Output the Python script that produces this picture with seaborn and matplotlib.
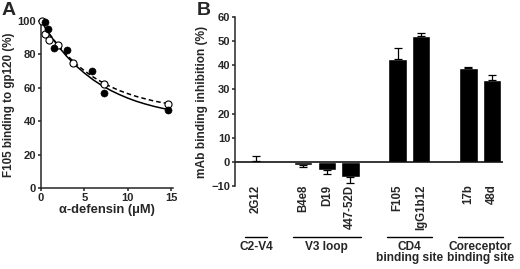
import numpy as np
import pandas as pd
import matplotlib
matplotlib.use("Agg")
import matplotlib.pyplot as plt
import seaborn as sns

# Panel A: F105 binding vs alpha-defensin (two experiments)
filled_x = [0.45, 0.8, 1.5, 3.0, 5.9, 7.3, 14.6]
filled_y = [99.5, 95, 84, 82.5, 70, 57, 47]
open_x = [0.1, 0.5, 0.95, 1.9, 3.7, 7.3, 14.6]
open_y = [100, 92.5, 88.5, 85.5, 75, 62.5, 50.5]

# fitted curves
curve_x = [0, 1, 2, 3, 4, 5, 6, 7, 8, 9, 10, 11, 12, 13, 14, 14.7]
solid_fit = [100, 91.8, 84.7, 78.6, 73.3, 68.8, 64.8, 61.4, 58.5, 56.0, 53.8, 51.9, 50.3, 48.9, 47.7, 47.0]
dashed_fit = [100, 92.0, 85.2, 79.4, 74.4, 70.2, 66.5, 63.4, 60.7, 58.4, 56.5, 54.8, 53.4, 52.1, 51.1, 50.5]

# Panel B: mAb binding inhibition
antibodies = ["2G12", "B4e8", "D19", "447-52D", "F105", "IgG1b12", "17b", "48d"]
inhibition = [0.5, -1.5, -3.3, -6.3, 42.5, 52.0, 39.0, 34.0]
sem = [2.0, 0.7, 1.8, 2.4, 4.5, 1.2, 0.4, 2.0]
groups = ["C2-V4", "V3 loop", "CD4\nbinding site", "Coreceptor\nbinding site"]
group_members = [["2G12"], ["B4e8", "D19", "447-52D"], ["F105", "IgG1b12"], ["17b", "48d"]]

sns.set_style("ticks")
plt.rcParams['font.family'] = ['Liberation Sans', 'DejaVu Sans']
plt.rcParams['font.weight'] = 'bold'
plt.rcParams['axes.labelweight'] = 'bold'
plt.rcParams['axes.linewidth'] = 1.1
plt.rcParams['xtick.major.width'] = 1.1
plt.rcParams['ytick.major.width'] = 1.1

TICK = 8
LAB = 9.3

fig = plt.figure(figsize=(5.2, 2.69), dpi=100)
axa = fig.add_axes([41 / 520, 1 - 188 / 269, 132 / 520, 167 / 269])
axb = fig.add_axes([235 / 520, 1 - 186 / 269, 268 / 520, 169 / 269])

# ---- panel A
sns.lineplot(x=curve_x, y=solid_fit, ax=axa, color='black', lw=1.1)
sns.lineplot(x=curve_x, y=dashed_fit, ax=axa, color='black', lw=1.1, linestyle='--')
axa.lines[-1].set_dashes([3, 2])
sns.scatterplot(x=open_x, y=open_y, ax=axa, color='white', edgecolor='black',
                linewidth=0.8, s=26, zorder=3, clip_on=False)
sns.scatterplot(x=filled_x, y=filled_y, ax=axa, color='black', edgecolor='black',
                s=26, zorder=4, clip_on=False)
axa.set_xlim(0, 15.2)
axa.set_ylim(0, 100)
axa.set_xticks([0, 5, 10, 15])
axa.set_yticks([0, 20, 40, 60, 80, 100])
axa.tick_params(labelsize=TICK, length=2.5, pad=1)
axa.set_xlabel('α-defensin (μM)', fontsize=LAB, labelpad=1)
axa.set_ylabel('F105 binding to gp120 (%)', fontsize=8.4, labelpad=2)
sns.despine(ax=axa)

# ---- panel B
pos = [0, 2, 3, 4, 6, 7, 9, 10]
dfb = pd.DataFrame({'pos': pos, 'val': inhibition})
sns.barplot(data=dfb, x='pos', y='val', native_scale=True, color='black',
            saturation=1, width=0.78, errorbar=None, ax=axb)
vals = np.array(inhibition)
err = np.array(sem)
lower = np.where(vals < 0, err, 0)
upper = np.where(vals >= 0, err, 0)
axb.errorbar(pos, vals, yerr=[lower, upper], fmt='none', ecolor='black',
             elinewidth=0.9, capsize=3, capthick=0.9)
axb.axhline(0, color='black', lw=1.1, xmin=0, xmax=1)
axb.set_xlim(-0.89, 10.47)
axb.set_ylim(-10, 60)
axb.set_yticks(range(-10, 61, 10))
axb.set_xticks(pos)
axb.set_xticklabels(antibodies, rotation=90, fontsize=8.3)
axb.tick_params(axis='x', length=0, pad=-1)
axb.tick_params(axis='y', labelsize=TICK, length=2.5, pad=1)
axb.set_xlabel('')
axb.set_ylabel('mAb binding inhibition (%)', fontsize=8.6, labelpad=2)
sns.despine(ax=axb, bottom=True)

for ax in (axa, axb):
    for lbl in ax.get_xticklabels() + ax.get_yticklabels():
        lbl.set_fontweight('bold')

trans = axb.get_xaxis_transform()
lookup = dict(zip(antibodies, pos))
for name, members in zip(groups, group_members):
    lo = lookup[members[0]] - 0.45
    hi = lookup[members[-1]] + 0.45
    axb.plot([lo, hi], [-0.303, -0.303], transform=trans, color='black',
             lw=1.0, clip_on=False)
    axb.text((lo + hi) / 2, -0.325, name, transform=trans, ha='center', va='top',
             fontsize=8.6, linespacing=0.95)

fig.text(2 / 520, 1 - 2 / 269, 'A', fontsize=14, fontweight='bold', va='top')
fig.text(197 / 520, 1 - 2 / 269, 'B', fontsize=14, fontweight='bold', va='top')

fig.savefig('out.png', dpi=100)
